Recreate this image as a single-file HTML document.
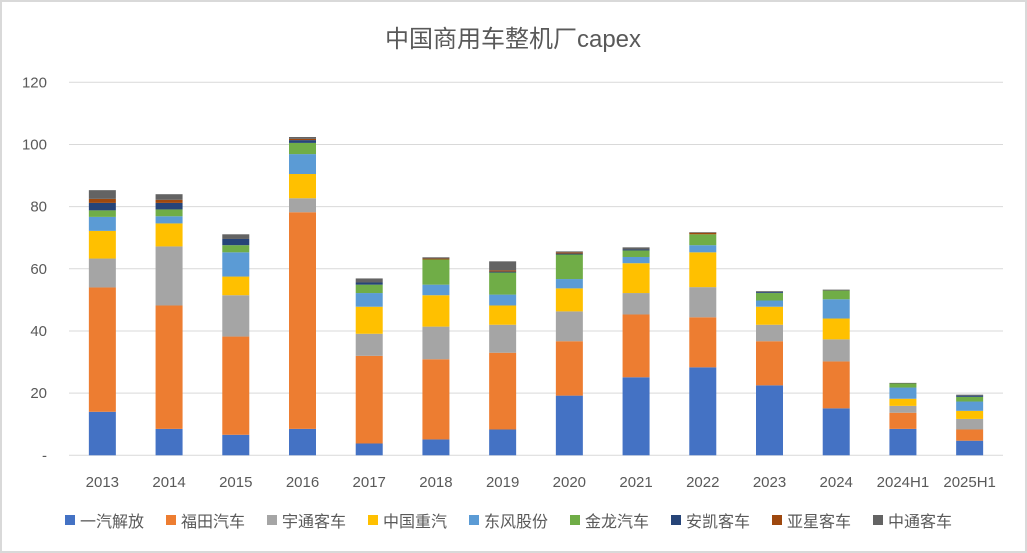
<!DOCTYPE html>
<html><head><meta charset="utf-8">
<style>
html,body{margin:0;padding:0;background:#fff;}
svg{display:block;font-family:"Liberation Sans","Noto Sans CJK SC",sans-serif;}
</style></head>
<body>
<svg id="chart" width="1027" height="553" viewBox="0 0 1027 553">
<rect x="1" y="1" width="1025" height="551" fill="#fff" stroke="#d9d9d9" stroke-width="2"/>
<text x="513" y="47" text-anchor="middle" font-size="24" fill="#595959">中国商用车整机厂capex</text>
<g id="grid"></g><g id="bars"></g><g id="xlabels"></g><g id="legend"></g>
</svg>
<script>
const categories=["2013","2014","2015","2016","2017","2018","2019","2020","2021","2022","2023","2024","2024H1","2025H1"];
const seriesNames=["一汽解放","福田汽车","宇通客车","中国重汽","东风股份","金龙汽车","安凯客车","亚星客车","中通客车"];
const seriesColors=["#4472c4","#ed7d31","#a5a5a5","#ffc000","#5b9bd5","#70ad47","#264478","#9e480e","#636363"];
const faw=[14.0,8.5,6.6,8.5,3.8,5.1,8.3,19.2,25.1,28.3,22.5,15.1,8.5,4.7];
const foton=[40.0,39.7,31.6,69.7,28.2,25.8,24.7,17.5,20.2,16.1,14.2,15.1,5.2,3.6];
const yutong=[9.3,19.0,13.3,4.5,7.1,10.5,9.0,9.6,6.9,9.7,5.3,7.1,2.2,3.4];
const sinotruk=[8.9,7.4,6.0,7.8,8.7,10.1,6.2,7.4,9.6,11.2,5.8,6.7,2.3,2.6];
const dongfeng=[4.5,2.3,7.8,6.4,4.4,3.4,3.5,3.0,2.0,2.3,2.0,6.2,3.6,3.0];
const kinglong=[2.1,2.2,2.3,3.6,2.7,8.1,7.1,7.9,2.1,3.5,2.4,2.8,1.3,1.5];
const ankai=[2.4,2.1,2.0,0.9,0.7,0,0.3,0.3,0.3,0,0.3,0,0,0.4];
const yaxing=[1.3,1.0,0,0.4,0,0.3,0.4,0.4,0,0.5,0,0,0,0];
const zhongtong=[2.8,1.8,1.5,0.6,1.3,0.4,2.9,0.3,0.7,0.2,0.3,0.3,0.2,0.3];
const yTicks=[0,20,40,60,80,100,120];
const yTickLabels=["-","20","40","60","80","100","120"];

const series=[faw,foton,yutong,sinotruk,dongfeng,kinglong,ankai,yaxing,zhongtong];
const NS="http://www.w3.org/2000/svg";
const X0=69,X1=1003,Y0=455.3,YTOP=82.3,YMAX=120;
const band=(X1-X0)/categories.length,barW=27;
const yS=v=>Y0-(v/YMAX)*(Y0-YTOP);
const xC=i=>X0+band*(i+0.5);
function mk(tag,attrs,parent){const e=document.createElementNS(NS,tag);for(const k in attrs)e.setAttribute(k,attrs[k]);parent.appendChild(e);return e;}
const grid=document.getElementById('grid');
yTicks.forEach((t,i)=>{
  const l=mk('line',{x1:X0,x2:X1,y1:yS(t),y2:yS(t),stroke:'#d9d9d9','stroke-width':1},grid);
  
  
  const tx=mk('text',{x:47,y:yS(t)+5,'text-anchor':'end','font-size':15,fill:'#595959'},grid);
  tx.textContent=yTickLabels[i];
  
  
});
const bars=document.getElementById('bars');
categories.forEach((c,i)=>{
  let acc=0;
  series.forEach((s,k)=>{
    const v=s[i];if(v<=0)return;
    const r=mk('rect',{x:xC(i)-barW/2,y:yS(acc+v),width:barW,height:yS(acc)-yS(acc+v),fill:seriesColors[k]},bars);
    
    
    acc+=v;
  });
  const t=mk('text',{x:xC(i),y:487,'text-anchor':'middle','font-size':15,fill:'#595959'},document.getElementById('xlabels'));
  t.textContent=c;
  
  
});
const lg=document.getElementById('legend');
seriesNames.forEach((n,k)=>{
  const x=65+k*101;
  const g=mk('g',{},lg);
  
  
  mk('rect',{x:x,y:515,width:10,height:10,fill:seriesColors[k]},g);
  const t=mk('text',{x:x+15,y:527,'font-size':16,fill:'#595959'},g);
  t.textContent=n;
});
</script>
</body></html>
